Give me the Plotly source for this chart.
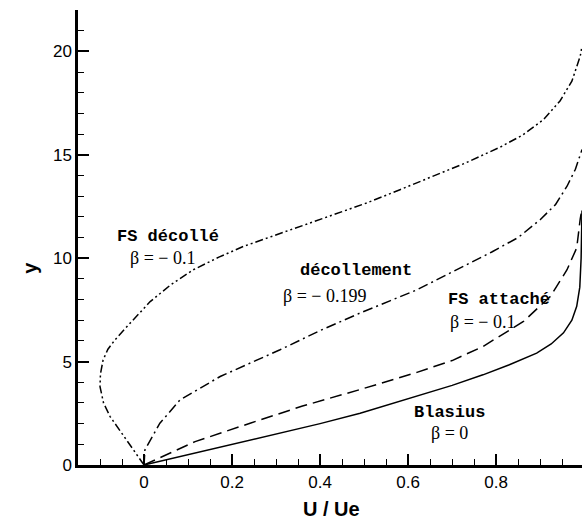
import plotly.graph_objects as go

# ---- data ----
blasius_u = [0, 0.241, 0.40, 0.491, 0.62, 0.70, 0.77, 0.83, 0.892, 0.925, 0.953, 0.972, 0.983, 0.990, 0.993, 0.995]
blasius_y = [0, 1.21, 2.0, 2.50, 3.31, 3.85, 4.36, 4.85, 5.41, 5.85, 6.39, 7.0, 7.67, 8.6, 10.0, 12.3]

attache_u = [0, 0.116, 0.241, 0.36, 0.491, 0.62, 0.70, 0.77, 0.862, 0.923, 0.961, 0.983, 0.991, 0.995]
attache_y = [0, 1.13, 2.02, 2.85, 3.65, 4.48, 5.05, 5.73, 6.94, 8.15, 9.44, 10.5, 11.9, 12.4]

decol_u = [0, 0.002, 0.036, 0.082, 0.173, 0.309, 0.40, 0.491, 0.56, 0.62, 0.66, 0.72, 0.79,
           0.85, 0.9, 0.935, 0.961, 0.98, 0.995]
decol_y = [0, 0.73, 2.02, 3.15, 4.28, 5.57, 6.5, 7.35, 7.95, 8.47, 8.9, 9.55, 10.3,
           11.0, 11.86, 12.6, 13.48, 14.3, 15.25]

fsdecol_u = [0, -0.02, -0.039, -0.06, -0.077, -0.092, -0.1, -0.099, -0.093, -0.082, -0.066,
             -0.045, -0.024, 0.014, 0.06, 0.112, 0.17, 0.226, 0.29, 0.355, 0.43, 0.506,
             0.58, 0.658, 0.73, 0.809, 0.86, 0.9075, 0.945, 0.972, 0.991, 0.995]
fsdecol_y = [0, 0.6, 1.21, 1.8, 2.34, 3.0, 3.79, 4.4, 5.08, 5.6, 6.05,
             6.55, 7.02, 7.9, 8.7, 9.44, 10.05, 10.57, 11.05, 11.54, 12.1, 12.67,
             13.3, 13.96, 14.6, 15.37, 15.95, 16.7, 17.6, 18.56, 19.77, 20.25]

x_ticks = [0, 0.2, 0.4, 0.6, 0.8]
x_tick_labels = ["0", "0.2", "0.4", "0.6", "0.8"]
y_ticks = [0, 5, 10, 15, 20]
y_tick_labels = ["0", "5", "10", "15", "20"]

SANS = "Liberation Sans, Arial, sans-serif"
MONO = "Liberation Mono"
SERIF = "Liberation Serif, Times New Roman, serif"

fig = go.Figure()
lw = 1.5
fig.add_trace(go.Scatter(x=blasius_u, y=blasius_y, mode="lines",
                         line=dict(color="black", width=lw)))
fig.add_trace(go.Scatter(x=attache_u, y=attache_y, mode="lines",
                         line=dict(color="black", width=lw, dash="12px,6px")))
fig.add_trace(go.Scatter(x=decol_u, y=decol_y, mode="lines",
                         line=dict(color="black", width=lw, dash="10px,4px,2px,4px")))
fig.add_trace(go.Scatter(x=fsdecol_u, y=fsdecol_y, mode="lines",
                         line=dict(color="black", width=lw, dash="8px,3px,2px,3px,2px,3px")))

def lab(txt, x, y, mono=True):
    if mono:
        font = dict(family=MONO, size=17, color="black", weight="bold")
    else:
        font = dict(family=SERIF, size=18, color="black")
    return dict(text=txt, x=x, y=y, xref="x", yref="y", showarrow=False,
                xanchor="center", yanchor="middle", font=font)

annotations = [
    lab("FS décollé", 0.0545, 11.04),
    lab("β = − 0.1", 0.041, 10.02, mono=False),
    lab("décollement", 0.482, 9.39),
    lab("β = − 0.199", 0.411, 8.18, mono=False),
    lab("FS attaché", 0.807, 7.99),
    lab("β = − 0.1", 0.768, 6.92, mono=False),
    lab("Blasius", 0.693, 2.52),
    lab("β = 0", 0.693, 1.55, mono=False),
    dict(text="<b>y</b>", x=-0.095, y=9.54, xref="paper", yref="y", showarrow=False,
         textangle=-90, xanchor="center", yanchor="middle",
         font=dict(family=SANS, size=20, color="black")),
    dict(text="<b>U / Ue</b>", x=0.427, y=-0.097, xref="x", yref="paper", showarrow=False,
         xanchor="center", yanchor="middle",
         font=dict(family=SANS, size=20, color="black")),
]

axis_common = dict(showline=True, linecolor="black", linewidth=2.5, mirror=False,
                   ticks="inside", ticklen=11, tickwidth=2, tickcolor="black",
                   showgrid=False, zeroline=False,
                   tickfont=dict(family=SANS, size=17, color="black"))

fig.update_layout(
    width=582, height=523,
    margin=dict(l=78, r=0, t=10, b=58),
    paper_bgcolor="white", plot_bgcolor="white",
    showlegend=False,
    annotations=annotations,
    xaxis=dict(range=[-0.15, 0.995], tickvals=x_ticks, ticktext=x_tick_labels,
               minor=dict(ticks="inside", ticklen=6, tickwidth=1, tickcolor="black", dtick=0.05, tick0=0),
               **axis_common),
    yaxis=dict(range=[0, 22], tickvals=y_ticks, ticktext=y_tick_labels,
               minor=dict(ticks="inside", ticklen=6, tickwidth=1, tickcolor="black", dtick=1, tick0=0),
               **axis_common),
)

fig.write_html("out.html")
